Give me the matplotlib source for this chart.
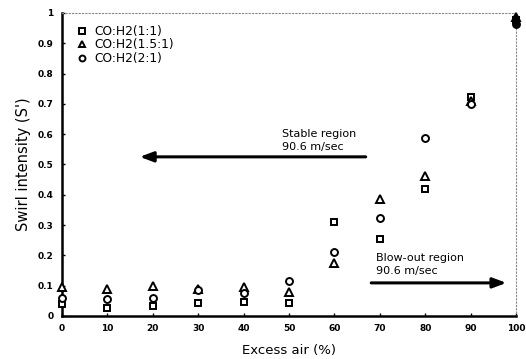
import matplotlib
matplotlib.use("Agg")
import matplotlib.pyplot as plt

excess_air = [0, 10, 20, 30, 40, 50, 60, 70, 80, 90, 100]
s_11 = [0.040, 0.025, 0.034, 0.042, 0.045, 0.042, 0.309, 0.254, 0.418, 0.724, 0.975]
s_151 = [0.095, 0.090, 0.099, 0.088, 0.095, 0.080, 0.174, 0.386, 0.462, 0.710, 0.985]
s_21 = [0.058, 0.055, 0.060, 0.085, 0.077, 0.115, 0.212, 0.322, 0.588, 0.700, 0.965]
labels = ["CO:H2(1:1)", "CO:H2(1.5:1)", "CO:H2(2:1)"]
xticks = [0, 10, 20, 30, 40, 50, 60, 70, 80, 90, 100]
yticks = [0, 0.1, 0.2, 0.3, 0.4, 0.5, 0.6, 0.7, 0.8, 0.9, 1]
ytick_labels = ["0", "0.1", "0.2", "0.3", "0.4", "0.5", "0.6", "0.7", "0.8", "0.9", "1"]

fig = plt.figure(figsize=(5.26, 3.59), dpi=100)
ax = fig.add_axes([0.118, 0.12, 0.863, 0.844])

series = [(s_11, "s", 4.8), (s_151, "^", 5.6), (s_21, "o", 5.0)]
for (vals, m, ms), lab in zip(series, labels):
    ax.plot(excess_air[:-1], vals[:-1], linestyle="none", marker=m, markersize=ms,
            markerfacecolor="white", markeredgecolor="black", markeredgewidth=1.4,
            label=lab, clip_on=False, zorder=3)
    ax.plot(excess_air[-1:], vals[-1:], linestyle="none", marker=m, markersize=ms,
            markerfacecolor="black", markeredgecolor="black", markeredgewidth=1.4,
            clip_on=False, zorder=3)

ax.set_xlim(0, 100)
ax.set_ylim(0, 1)
ax.set_xticks(xticks)
ax.set_xticklabels([str(v) for v in xticks], fontsize=6.5, fontweight="bold")
ax.set_yticks(yticks)
ax.set_yticklabels(ytick_labels, fontsize=6.5, fontweight="bold")
ax.tick_params(direction="in", length=2, width=1, pad=6)

for s in ["left", "bottom"]:
    ax.spines[s].set_linewidth(1.8)
    ax.spines[s].set_color("black")
for s in ["top", "right"]:
    ax.spines[s].set_linestyle((0, (1, 2)))
    ax.spines[s].set_color("#888888")
    ax.spines[s].set_linewidth(0.8)

ax.set_xlabel("Excess air (%)", fontsize=9.5, labelpad=8)
ax.set_ylabel("Swirl intensity (S')", fontsize=10.5, labelpad=5)

leg = ax.legend(loc="upper left", bbox_to_anchor=(0.015, 0.985), frameon=False,
                fontsize=8.8, handletextpad=0.6, labelspacing=0.05, handlelength=0.9,
                borderaxespad=0.2, markerscale=0.85)

ax.annotate("", xy=(16.5, 0.525), xytext=(67.5, 0.525),
            arrowprops=dict(arrowstyle="-|>,head_length=0.8,head_width=0.3",
                            lw=2.2, color="black"))
ax.text(48.5, 0.578, "Stable region\n90.6 m/sec", fontsize=8, va="center", ha="left",
        linespacing=1.35)

ax.annotate("", xy=(98.5, 0.109), xytext=(67.5, 0.109),
            arrowprops=dict(arrowstyle="-|>,head_length=0.8,head_width=0.3",
                            lw=2.2, color="black"))
ax.text(69.2, 0.170, "Blow-out region\n90.6 m/sec", fontsize=8, va="center", ha="left",
        linespacing=1.35)

fig.savefig("out.png", dpi=100)
